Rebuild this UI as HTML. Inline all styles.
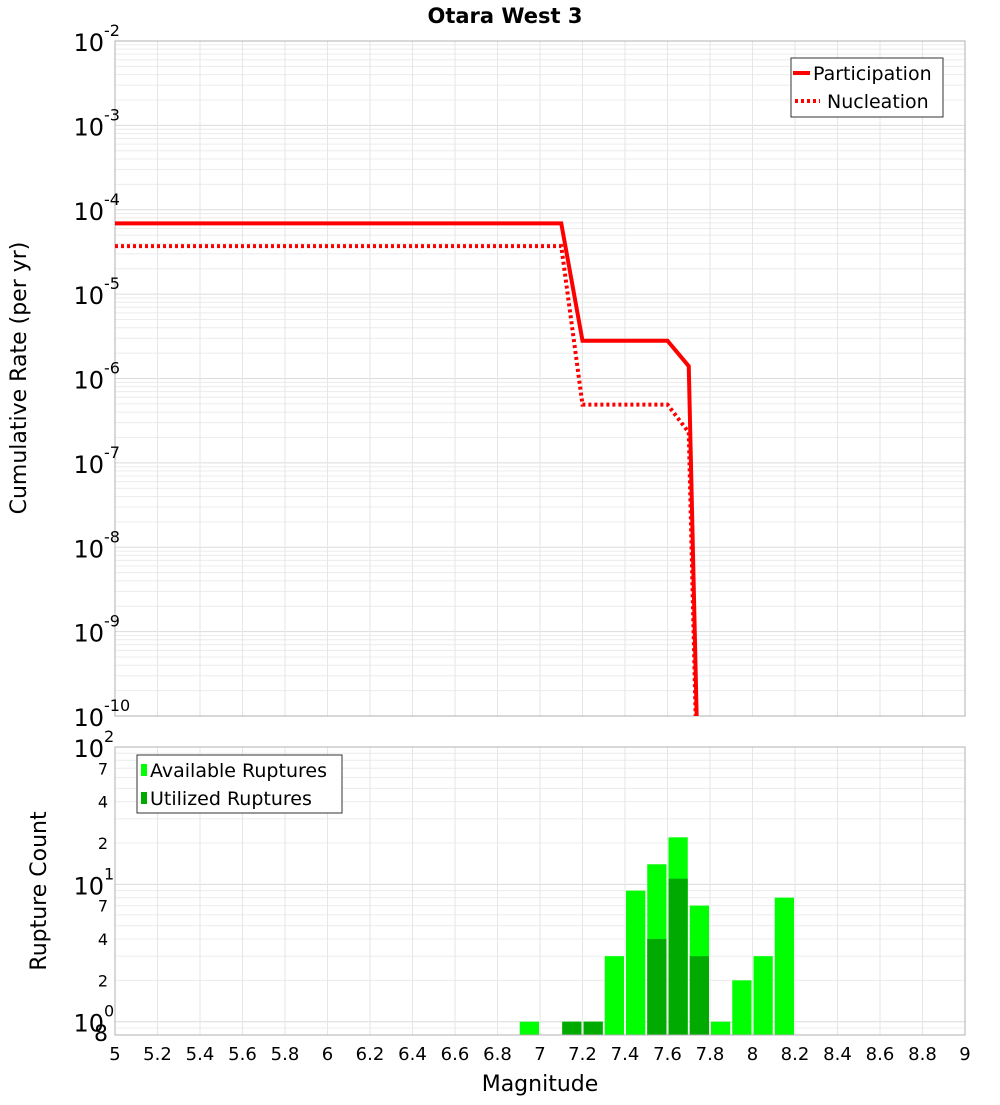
<!DOCTYPE html>
<html><head><meta charset="utf-8"><style>
body{margin:0;background:#fff;font-family:"Liberation Sans","DejaVu Sans",sans-serif;}
svg text{font-family:"DejaVu Sans","Liberation Sans",sans-serif;}
</style></head><body>
<svg id="c" width="1000" height="1100" xmlns="http://www.w3.org/2000/svg">
<text x="505" y="23" font-size="21" font-weight="bold" text-anchor="middle">Otara West 3</text>
<g id="topg"></g>
<g id="botg"></g>
<text transform="translate(26,378) rotate(-90)" font-size="22" text-anchor="middle">Cumulative Rate (per yr)</text>
<text transform="translate(46,891) rotate(-90)" font-size="22" text-anchor="middle">Rupture Count</text>
<text x="540" y="1091" font-size="22" text-anchor="middle">Magnitude</text>
</svg>
<script>
const partMags=[5.0,7.1,7.2,7.6,7.7,7.8];
const partVals=[6.9e-5,6.9e-5,2.8e-6,2.8e-6,1.4e-6,1e-17];
const nuclMags=[5.0,7.1,7.2,7.6,7.7,7.8];
const nuclVals=[3.7e-5,3.7e-5,4.9e-7,4.9e-7,2.3e-7,1e-17];
const binCenters=[6.95,7.15,7.25,7.35,7.45,7.55,7.65,7.75,7.85,7.95,8.05,8.15];
const availCounts=[1,1,1,3,9,14,22,7,1,2,3,8];
const utilCounts=[0,1,1,0,0,4,11,3,0,0,0,0];
const xTicks=[5,5.2,5.4,5.6,5.8,6,6.2,6.4,6.6,6.8,7,7.2,7.4,7.6,7.8,8,8.2,8.4,8.6,8.8,9];

const NS="http://www.w3.org/2000/svg";
const L=115,R=965;
const T1=41,B1=716,T2=747,B2=1035;
const xs=m=>L+(m-5)/4*(R-L);
const y1=v=>T1+(-2-Math.log10(v))/8*(B1-T1);
const cMin=0.8,cMax=100;
const y2=v=>T2+(Math.log10(cMax)-Math.log10(v))/(Math.log10(cMax)-Math.log10(cMin))*(B2-T2);
function el(p,t,a){const e=document.createElementNS(NS,t);for(const k in a)e.setAttribute(k,a[k]);p.appendChild(e);return e;}
const topG=document.getElementById('topg'),botG=document.getElementById('botg');
const svgEl=document.getElementById('c');
const defs=el(svgEl,'defs',{});
const cp1=el(defs,'clipPath',{id:'cp1'});el(cp1,'rect',{x:L,y:T1,width:R-L,height:B1-T1});

for(let d=-10;d<-2;d++){for(let k=1;k<10;k++){const yy=y1(k*Math.pow(10,d));
 const g=el(topG,'line',{x1:L,x2:R,y1:yy,y2:yy,stroke:k==1?'#dcdcdc':'#ececec','stroke-width':1});
 
 }}
for(const t of xTicks){const g=el(topG,'line',{x1:xs(t),x2:xs(t),y1:T1,y2:B1,stroke:'#e6e6e6'});
 
 }
const f1=el(topG,'rect',{x:L,y:T1,width:R-L,height:B1-T1,fill:'none',stroke:'#b0b0b0'});


for(let d=-10;d<=-2;d++){const yy=y1(Math.pow(10,d));
 const t=el(topG,'text',{x:104,y:yy+10,'font-size':24,'text-anchor':'end'});t.textContent='10';
 
 
 const s=el(topG,'text',{x:104,y:yy-5,'font-size':16,'text-anchor':'start'});s.textContent=String(d);
 
 }
function pts(ms,vs){return ms.map((m,i)=>xs(m)+','+y1(vs[i])).join(' ');}
const pl=el(topG,'polyline',{points:pts(partMags,partVals),fill:'none',stroke:'#ff0000','stroke-width':4,'clip-path':'url(#cp1)'});


const nl=el(topG,'polyline',{points:pts(nuclMags,nuclVals),fill:'none',stroke:'#ff0000','stroke-width':4,'stroke-dasharray':'3,3','clip-path':'url(#cp1)'});


const lg=el(topG,'g',{});


el(lg,'rect',{x:791,y:58,width:152,height:59,fill:'#fff',stroke:'#333'});
el(lg,'line',{x1:793,x2:810,y1:73,y2:73,stroke:'#f00','stroke-width':4});
let lt=el(lg,'text',{x:813,y:80,'font-size':19});lt.textContent='Participation';
el(lg,'line',{x1:795,x2:820,y1:101,y2:101,stroke:'#f00','stroke-width':4,'stroke-dasharray':'3,3'});
lt=el(lg,'text',{x:827,y:108,'font-size':19});lt.textContent='Nucleation';

for(let d=-1;d<2;d++){for(let k=1;k<10;k++){const v=k*Math.pow(10,d);if(v<cMin||v>cMax)continue;const yy=y2(v);
 const g=el(botG,'line',{x1:L,x2:R,y1:yy,y2:yy,stroke:k==1?'#dcdcdc':'#ececec'});
 
 }}
for(const t of xTicks){const g=el(botG,'line',{x1:xs(t),x2:xs(t),y1:T2,y2:B2,stroke:'#e6e6e6'});
 
 }
const bw=xs(5.1)-xs(5);
binCenters.forEach((c,i)=>{
 const a=el(botG,'rect',{x:xs(c)-bw/2+1,y:y2(availCounts[i]),width:bw-2,height:B2-y2(availCounts[i]),fill:'#00ff00'});
 
 
 if(utilCounts[i]>0){const u=el(botG,'rect',{x:xs(c)-bw/2+1,y:y2(utilCounts[i]),width:bw-2,height:B2-y2(utilCounts[i]),fill:'#00aa00'});
 
 }
});
const f2=el(botG,'rect',{x:L,y:T2,width:R-L,height:B2-T2,fill:'none',stroke:'#b0b0b0'});


[[100,'2'],[10,'1'],[1,'0']].forEach(([v,e])=>{const yy=y2(v);
 const t=el(botG,'text',{x:104,y:yy+10,'font-size':24,'text-anchor':'end'});t.textContent='10';
 
 
 const s=el(botG,'text',{x:104,y:yy-5,'font-size':16});s.textContent=e;
 
 });
[[70,'7'],[40,'4'],[20,'2'],[7,'7'],[4,'4'],[2,'2'],[0.8,'8']].forEach(([v,s])=>{
 const t=el(botG,'text',{x:108,y:y2(v)+6,'font-size':v==0.8?22:16,'text-anchor':'end'});t.textContent=s;
 
 });
for(const tk of xTicks){const t=el(botG,'text',{x:xs(tk),y:1060,'font-size':18,'text-anchor':'middle'});t.textContent=String(tk);
 
 }
const lg2=el(botG,'g',{});


el(lg2,'rect',{x:137,y:755,width:205,height:58,fill:'#fff',stroke:'#333'});
el(lg2,'rect',{x:141,y:764,width:6,height:12,fill:'#00ff00'});
lt=el(lg2,'text',{x:150,y:777,'font-size':19});lt.textContent='Available Ruptures';
el(lg2,'rect',{x:141,y:792,width:6,height:12,fill:'#00aa00'});
lt=el(lg2,'text',{x:150,y:805,'font-size':19});lt.textContent='Utilized Ruptures';
</script>
</body></html>
